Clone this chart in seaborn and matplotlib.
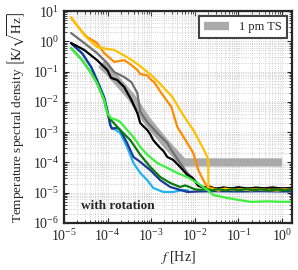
import matplotlib
matplotlib.use("Agg")
import matplotlib.pyplot as plt
import seaborn as sns
from matplotlib.lines import Line2D
from matplotlib.ticker import LogLocator

# requirement band (1 pm TS)
band_f = [7.1e-5, 1.14e-4, 3.5e-4, 8.1e-4, 2.1e-3, 5.4e-3, 1.0]
band_y = [0.178, 0.090, 0.0145, 2.34e-3, 4.4e-4, 1.0e-4, 1.0e-4]

yellow_f = [1.45e-5, 2.9e-5, 5.7e-5, 9.8e-5, 1.41e-4, 2.8e-4, 4.1e-4, 5.9e-4, 1.0e-3, 1.7e-3,
            3.0e-3, 5.4e-3, 9.2e-3, 1.34e-2, 1.94e-2, 2.04e-2, 2.05e-2, 2.5e-2, 3.5e-2, 5e-2,
            8e-2, 0.12, 0.2, 0.3, 0.5, 0.8, 1.2, 1.7]
yellow_y = [6.3, 1.62, 0.65, 0.56, 0.52, 0.30, 0.21, 0.142, 0.077, 0.036,
            0.015, 3.7e-3, 1.18e-3, 4.4e-4, 1.52e-4, 9.6e-5, 1.24e-5, 1.32e-5, 1.18e-5, 1.35e-5,
            1.22e-5, 1.3e-5, 1.2e-5, 1.3e-5, 1.24e-5, 1.18e-5, 1.28e-5, 1.22e-5]

orange_f = [1.45e-5, 2.9e-5, 3.4e-5, 5.7e-5, 8.3e-5, 1.41e-4, 2.4e-4, 3.5e-4, 4.8e-4, 5.6e-4,
            8.1e-4, 1.0e-3, 1.17e-3, 1.7e-3, 2.9e-3, 3.96e-3, 6.7e-3, 9.2e-3, 1.2e-2, 1.57e-2,
            1.94e-2, 3e-2, 5e-2, 0.1, 0.2, 0.4, 0.8, 1.7]
orange_y = [6.0, 1.7, 1.39, 0.88, 0.41, 0.21, 0.24, 0.165, 0.113, 0.083,
            0.075, 0.053, 0.045, 0.0197, 6.8e-3, 1.49e-3, 4.4e-4, 2.06e-4, 5.6e-5, 2.6e-5,
            1.55e-5, 1.3e-5, 1.35e-5, 1.25e-5, 1.3e-5, 1.22e-5, 1.28e-5, 1.25e-5]

gray_f = [1.45e-5, 2.9e-5, 5.7e-5, 9.8e-5, 1.41e-4, 2.4e-4, 3.5e-4, 4.8e-4, 5.6e-4, 8.1e-4,
          1.37e-3, 2.33e-3, 3.2e-3, 4.6e-3, 6.7e-3, 8.8e-3, 1.34e-2, 2e-2, 4e-2, 0.1, 0.3, 0.7, 1.7]
gray_y = [1.88, 0.88, 0.41, 0.19, 0.097, 0.066, 0.045, 0.0197, 4.7e-3, 2.17e-3,
          9.4e-4, 4.4e-4, 2.06e-4, 9.6e-5, 4.5e-5, 3.1e-5, 1.68e-5, 1.45e-5, 1.38e-5, 1.45e-5,
          1.4e-5, 1.42e-5, 1.38e-5]

black_f = [1.45e-5, 2.9e-5, 5.7e-5, 9.8e-5, 1.2e-4, 1.65e-4, 2.4e-4, 3.5e-4, 4.8e-4, 5.6e-4,
           6.5e-4, 8.1e-4, 9.5e-4, 1.11e-3, 1.3e-3, 1.61e-3, 1.9e-3, 2.33e-3, 3.2e-3, 4.6e-3,
           6.7e-3, 8.8e-3, 1.2e-2, 1.6e-2, 2.2e-2, 3e-2, 4.5e-2, 7e-2, 0.1, 0.16, 0.25, 0.4,
           0.6, 1.0, 1.7]
black_y = [0.88, 0.52, 0.24, 0.113, 0.062, 0.053, 0.031, 0.0116, 4.3e-3, 2.0e-3,
           1.6e-3, 1.18e-3, 8.5e-4, 5.5e-4, 4.2e-4, 3.0e-4, 2.4e-4, 1.52e-4, 1.21e-4, 7.1e-5,
           3.9e-5, 3.1e-5, 1.68e-5, 1.5e-5, 1.6e-5, 1.35e-5, 1.5e-5, 1.38e-5, 1.52e-5, 1.36e-5,
           1.48e-5, 1.4e-5, 1.5e-5, 1.38e-5, 1.45e-5]

ltblue_f = [1.45e-5, 2.6e-5, 4.2e-5, 5.7e-5, 8.3e-5, 9.8e-5, 1.08e-4, 1.2e-4, 1.94e-4, 2.8e-4,
            3.9e-4, 5.6e-4, 8.1e-4, 1.11e-3, 1.89e-3, 3.2e-3, 5.4e-3, 7e-3]
ltblue_y = [0.88, 0.41, 0.142, 0.053, 0.0145, 5.4e-3, 2.9e-3, 1.49e-3, 9.4e-4, 3.25e-4,
            9.6e-5, 4.5e-5, 2.6e-5, 1.44e-5, 1.06e-5, 1.06e-5, 1.24e-5, 1.2e-5]

dkblue_f = [1.45e-5, 2.6e-5, 4.2e-5, 5.7e-5, 8.3e-5, 9.8e-5, 1.14e-4, 1.25e-4, 1.65e-4, 1.94e-4,
            2.8e-4, 3.9e-4, 5.6e-4, 9.5e-4, 1.61e-3, 2.73e-3, 4.6e-3, 6.7e-3, 1.2e-2, 3e-2,
            0.1, 0.3, 1.0, 1.7]
dkblue_y = [0.85, 0.40, 0.14, 0.052, 0.0140, 5.2e-3, 1.73e-3, 1.3e-3, 1.4e-3, 1.18e-3,
            4.4e-4, 1.52e-4, 1.04e-4, 5.6e-5, 2.6e-5, 1.55e-5, 1.24e-5, 1.06e-5, 1.1e-5, 1.12e-5,
            1.1e-5, 1.12e-5, 1.1e-5, 1.1e-5]

dkgreen_f = [1.45e-5, 2.6e-5, 4.2e-5, 5.7e-5, 8.3e-5, 9.8e-5, 1.2e-4, 1.94e-4, 3.3e-4, 5.6e-4,
             9.5e-4, 1.61e-3, 2.73e-3, 4.6e-3, 6.0e-3, 7.9e-3, 1.0e-2, 1.34e-2, 1.8e-2, 2.5e-2,
             3.5e-2, 5e-2, 7e-2, 0.1, 0.15, 0.22, 0.33, 0.5, 0.75, 1.1, 1.7]
dkgreen_y = [0.60, 0.24, 0.090, 0.042, 0.0116, 4.3e-3, 2.5e-3, 1.18e-3, 5.5e-4, 1.8e-4,
             7.1e-5, 3.3e-5, 2.1e-5, 1.55e-5, 1.75e-5, 1.5e-5, 1.3e-5, 1.24e-5, 1.35e-5, 1.2e-5,
             1.32e-5, 1.18e-5, 1.3e-5, 1.2e-5, 1.33e-5, 1.2e-5, 1.3e-5, 1.18e-5, 1.28e-5, 1.2e-5, 1.25e-5]

lime_f = [1.45e-5, 2.6e-5, 4.2e-5, 5.7e-5, 8.3e-5, 9.8e-5, 1.2e-4, 1.65e-4, 1.94e-4, 2.8e-4,
          3.9e-4, 5.6e-4, 8.1e-4, 1.37e-3, 2.33e-3, 3.96e-3, 6.7e-3, 1.14e-2, 1.94e-2, 2.66e-2,
          5.6e-2, 0.19, 0.5, 1.0, 1.7]
lime_y = [0.60, 0.24, 0.090, 0.042, 0.0116, 4.3e-3, 2.9e-3, 2.5e-3, 2.17e-3, 1.18e-3,
          6.9e-4, 3.25e-4, 1.8e-4, 9.6e-5, 6.6e-5, 4.5e-5, 3.3e-5, 2.1e-5, 1.24e-5, 8.4e-6,
          6.7e-6, 5.0e-6, 5.2e-6, 5.0e-6, 5.1e-6]

sns.set_style("ticks")
plt.rcParams["font.family"] = ["Liberation Serif", "DejaVu Serif"]
plt.rcParams["mathtext.fontset"] = "stix"

fig = plt.figure(figsize=(2.98, 2.70), dpi=100)
ax = fig.add_axes([0.215, 0.174, 0.765, 0.785])

lw = 1.6
sns.lineplot(x=band_f, y=band_y, ax=ax, color="#aaaaaa", lw=6, estimator=None, sort=False,
             solid_capstyle="butt")
sns.lineplot(x=ltblue_f, y=ltblue_y, ax=ax, color="#1eb4f0", lw=lw, estimator=None, sort=False)
sns.lineplot(x=dkblue_f, y=dkblue_y, ax=ax, color="#1a3a9a", lw=lw, estimator=None, sort=False)
sns.lineplot(x=gray_f, y=gray_y, ax=ax, color="#707070", lw=lw, estimator=None, sort=False)
sns.lineplot(x=black_f, y=black_y, ax=ax, color="black", lw=lw, estimator=None, sort=False)
sns.lineplot(x=orange_f, y=orange_y, ax=ax, color="#ff8c00", lw=lw, estimator=None, sort=False)
sns.lineplot(x=yellow_f, y=yellow_y, ax=ax, color="#ffc000", lw=lw, estimator=None, sort=False)
sns.lineplot(x=dkgreen_f, y=dkgreen_y, ax=ax, color="#0a7a0a", lw=lw, estimator=None, sort=False)
sns.lineplot(x=lime_f, y=lime_y, ax=ax, color="#3cf03c", lw=lw, estimator=None, sort=False)

ax.set_xscale("log")
ax.set_yscale("log")
ax.set_xlim(1e-5, 1.7)
ax.set_ylim(1e-6, 1e1)
ax.xaxis.set_major_locator(LogLocator(base=10, numticks=12))
ax.yaxis.set_major_locator(LogLocator(base=10, numticks=12))
ax.xaxis.set_minor_locator(LogLocator(base=10, subs=range(2, 10), numticks=12))
ax.yaxis.set_minor_locator(LogLocator(base=10, subs=range(2, 10), numticks=12))
ax.grid(True, which="both", ls=":", color="#c4c4c4", lw=0.6)
ax.tick_params(which="both", direction="in", top=True, right=True, labelsize=10)
ax.tick_params(which="minor", labelbottom=False, labelleft=False)
for s in ax.spines.values():
    s.set_linewidth(1.6)

ax.set_xlabel(r"$f$ [Hz]", fontsize=10)
ax.set_ylabel(r"Temperature spectral density $\left[\mathrm{K}/\sqrt{\mathrm{Hz}}\right]$", fontsize=9.5)

handle = Line2D([], [], color="#aaaaaa", lw=6, solid_capstyle="butt")
leg = ax.legend([handle], ["1 pm TS"], loc="upper right", fontsize=9, fancybox=False,
                framealpha=1, handlelength=2.0, borderaxespad=0.4)
leg.get_frame().set_edgecolor("#444444")
leg.get_frame().set_linewidth(1.5)

ax.text(0.075, 0.065, "with rotation", transform=ax.transAxes, fontsize=9.5, fontweight="bold")

fig.savefig("out.png", dpi=100)
